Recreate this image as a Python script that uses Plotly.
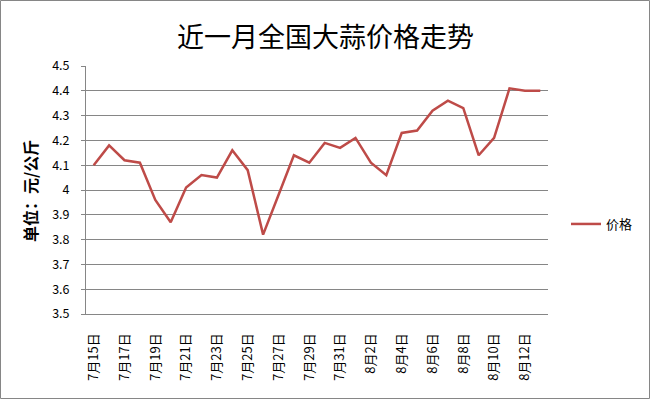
import plotly.graph_objects as go

dates = ["7月15日","7月16日","7月17日","7月18日","7月19日","7月20日","7月21日","7月22日",
         "7月23日","7月24日","7月25日","7月26日","7月27日","7月28日","7月29日","7月30日",
         "7月31日","8月1日","8月2日","8月3日","8月4日","8月5日","8月6日","8月7日",
         "8月8日","8月9日","8月10日","8月11日","8月12日","8月13日"]
prices = [4.10,4.18,4.12,4.11,3.96,3.87,4.01,4.06,4.05,4.16,4.08,3.82,3.98,4.14,4.11,4.19,
          4.17,4.21,4.11,4.06,4.23,4.24,4.32,4.36,4.33,4.14,4.21,4.41,4.40,4.40]
shown_dates = dates[::2]
y_ticks = [3.5,3.6,3.7,3.8,3.9,4.0,4.1,4.2,4.3,4.4,4.5]
y_tick_text = ["3.5","3.6","3.7","3.8","3.9","4","4.1","4.2","4.3","4.4","4.5"]

title = "近一月全国大蒜价格走势"
y_title = "单位：元/公斤"
series_name = "价格"

W, H = 650, 399
font = "Noto Sans CJK SC, Noto Sans, sans-serif"

fig = go.Figure()
fig.add_trace(go.Scatter(x=dates, y=prices, mode="lines", name=series_name,
                         line=dict(color="#BE4B48", width=2.5), hoverinfo="skip"))

fig.update_layout(
    template="none",
    width=W, height=H, autosize=False,
    margin=dict(l=0, r=0, t=0, b=0, pad=0),
    paper_bgcolor="white", plot_bgcolor="white",
    font=dict(family=font, color="#000000", size=12),
    showlegend=True,
    legend=dict(x=566/W, y=1-224/H, xanchor="left", yanchor="middle",
                bgcolor="rgba(0,0,0,0)", font=dict(size=13), itemwidth=30),
    xaxis=dict(domain=[86/W, 548/W], type="category", range=[-0.5, len(dates)-0.5],
               tickmode="array", tickvals=shown_dates, ticktext=shown_dates,
               tickangle=-90, showgrid=False, showline=True, linecolor="#868686",
               linewidth=1, ticks="", ticklabelstandoff=13, automargin=False,
               tickfont=dict(size=13), zeroline=False),
    yaxis=dict(domain=[(H-314)/H, (H-66)/H], range=[3.5, 4.5],
               tickmode="array", tickvals=y_ticks, ticktext=y_tick_text,
               showgrid=True, gridcolor="#868686", gridwidth=1,
               showline=True, linecolor="#868686", linewidth=1,
               ticks="outside", ticklen=4, tickcolor="#868686", tickwidth=1,
               ticklabelstandoff=9, automargin=False,
               tickfont=dict(size=12.5), zeroline=False),
    annotations=[
        dict(text=title, x=0.5, y=1-35/H, xref="paper", yref="paper",
             xanchor="center", yanchor="middle", showarrow=False,
             font=dict(size=27, family=font, color="#000000")),
        dict(text="<b>"+y_title+"</b>", x=30/W, y=1-191/H, xref="paper", yref="paper",
             xanchor="center", yanchor="middle", showarrow=False, textangle=-90,
             font=dict(size=16, family=font, color="#000000")),
    ],
    shapes=[dict(type="rect", xref="paper", yref="paper",
                 x0=0.5/W, x1=1-0.5/W, y0=0.5/H, y1=1-0.5/H,
                 line=dict(color="#868686", width=1))],
)

fig.write_html("out.html",
               config=dict(displayModeBar=False, staticPlot=True),
               post_script="document.documentElement.style.margin='0';document.body.style.margin='0';document.body.style.overflow='hidden';document.documentElement.style.overflow='hidden';")
